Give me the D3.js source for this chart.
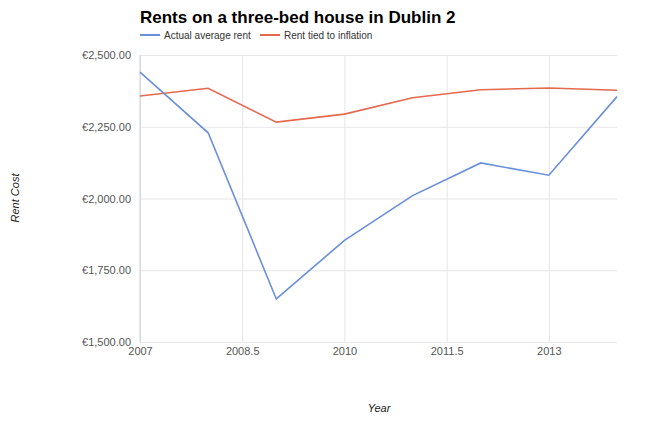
<!DOCTYPE html>
<html>
<head>
<meta charset="utf-8">
<script src="https://cdn.jsdelivr.net/npm/d3@7"></script>
<style>
  body { margin: 0; background: #fff; }
  svg { font-family: "Liberation Sans", Arial, sans-serif; }
</style>
</head>
<body>
<div id="chart"></div>
<script>
// chart data
const years = [2007, 2008, 2009, 2010, 2011, 2012, 2013, 2014];
const actualRent = [2440, 2229, 1650, 1854, 2010, 2124, 2081, 2355];
const inflationRent = [2357, 2384, 2266, 2294, 2351, 2379, 2385, 2377];
const xTicks = [2007, 2008.5, 2010, 2011.5, 2013];
const yTicks = [1500, 1750, 2000, 2250, 2500];

const width = 650, height = 434;
const margin = {top: 55, right: 33, bottom: 92, left: 140};
const innerW = width - margin.left - margin.right;
const innerH = height - margin.top - margin.bottom;

var blueColor = "#6a8fdb";
var redColor = "#e5694e";
var gridColor = "#e6e6e6";

const svg = d3.select("#chart").append("svg")
    .attr("width", width)
    .attr("height", height);

const g = svg.append("g").attr("transform", `translate(${margin.left},${margin.top})`);

const x = d3.scaleLinear().domain([2007, 2014]).range([0, innerW]);
const y = d3.scaleLinear().domain([1500, 2500]).range([innerH, 0]);

// horizontal grid + y labels
const yAxis = d3.axisLeft(y).tickValues(yTicks).tickSize(-innerW)
    .tickFormat(d => "€" + d3.format(",.2f")(d));
g.append("g")
    .call(yAxis)
    .call(s => s.select(".domain").remove())
    .call(s => s.selectAll("line").attr("stroke", gridColor))
    .call(s => s.selectAll("text").attr("x", -9).attr("fill", "#555").style("font-size", "11px"));

// vertical grid + x labels
const xAxis = d3.axisBottom(x).tickValues(xTicks).tickSize(-innerH)
    .tickFormat(d => String(d));
g.append("g")
    .attr("transform", `translate(0,${innerH})`)
    .call(xAxis)
    .call(s => s.select(".domain").remove())
    .call(s => s.selectAll("line").attr("stroke", gridColor))
    .call(s => s.selectAll("text").attr("y", 5).attr("fill", "#555").style("font-size", "11px"));

// left edge line
g.append("line")
    .attr("x1", 0).attr("x2", 0).attr("y1", 0).attr("y2", innerH)
    .attr("stroke", "#cfcfcf");

// lines
const line = d3.line().x((d, i) => x(years[i])).y(d => y(d));
g.append("path").datum(inflationRent)
    .attr("d", line).attr("fill", "none")
    .attr("stroke", redColor).attr("stroke-width", 1.6);
g.append("path").datum(actualRent)
    .attr("d", line).attr("fill", "none")
    .attr("stroke", blueColor).attr("stroke-width", 1.6);

// title
svg.append("text")
    .attr("x", 140).attr("y", 23)
    .style("font-size", "17px").style("font-weight", "bold")
    .attr("fill", "#000")
    .text("Rents on a three-bed house in Dublin 2");

// legend
const legendItems = [
    {label: "Actual average rent", color: blueColor, x: 140},
    {label: "Rent tied to inflation", color: redColor, x: 260}
];
const legend = svg.append("g");
legendItems.forEach(d => {
    legend.append("line")
        .attr("x1", d.x).attr("x2", d.x + 20)
        .attr("y1", 35).attr("y2", 35)
        .attr("stroke", d.color).attr("stroke-width", 2);
    legend.append("text")
        .attr("x", d.x + 24).attr("y", 39)
        .style("font-size", "10px").attr("fill", "#333")
        .text(d.label);
});

// axis titles
svg.append("text")
    .attr("transform", "translate(19,198) rotate(-90)")
    .attr("text-anchor", "middle")
    .style("font-size", "11px").style("font-style", "italic")
    .attr("fill", "#222")
    .text("Rent Cost");

svg.append("text")
    .attr("x", 379).attr("y", 412)
    .attr("text-anchor", "middle")
    .style("font-size", "11px").style("font-style", "italic")
    .attr("fill", "#222")
    .text("Year");
</script>
</body>
</html>
